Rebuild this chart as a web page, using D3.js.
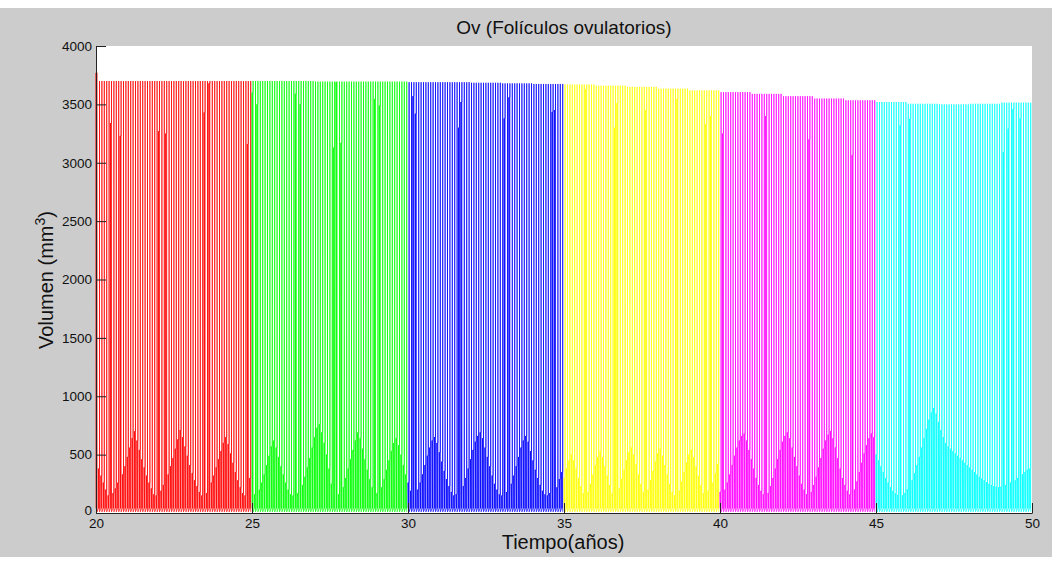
<!DOCTYPE html>
<html>
<head>
<meta charset="utf-8">
<script src="https://cdn.jsdelivr.net/npm/d3@7"></script>
<style>
  html, body { margin: 0; padding: 0; background: #fff; }
  svg { display: block; }
  text { font-family: 'Liberation Sans', Arial, Helvetica, sans-serif; fill: #111; }
</style>
</head>
<body>
<div id="chart"></div>
<script>
// 5-year stages, one colour each (MATLAB r g b y m c)
const segmentStarts = [20, 25, 30, 35, 40, 45]
const segmentColors = ['#ff0000', '#00ff00', '#0000ff', '#ffff00', '#ff00ff', '#00ffff']
const cyclesPerYear = 13
const cyclesPerSegment = 65

// peak follicle volume (mm3) reached in each year, 20..49
const peakByYear = [
  3700, 3700, 3700, 3700, 3700, 3700, 3700, 3695, 3695, 3695,
  3690, 3690, 3685, 3680, 3675, 3670, 3660, 3650, 3635, 3620,
  3605, 3590, 3570, 3550, 3535, 3520, 3505, 3500, 3505, 3515
]
const initialPeak = 3770

// volume left right after ovulation / at start of the next cycle
const residualEnd = 10
const residualStart = 40

// sample taken just before the peak in every cycle, per stage
const prePeakRed = [
  3770, 380, 320, 260, 200, 150, 3340, 170, 210, 260,
  3230, 330, 400, 480, 560, 640, 700, 620, 540, 460,
  390, 320, 260, 210, 160, 150, 3270, 190, 240, 3250,
  330, 400, 470, 550, 630, 710, 650, 570, 490, 410,
  340, 280, 230, 180, 150, 3430, 170, 3680, 260, 320,
  390, 460, 530, 600, 650, 590, 510, 430, 350, 280,
  220, 170, 150, 3160, 300
]
const prePeakGreen = [
  3600, 160, 3500, 200, 260, 330, 410, 490, 570, 620,
  560, 480, 400, 330, 260, 200, 160, 150, 3590, 170,
  3500, 240, 310, 390, 470, 560, 650, 730, 760, 690,
  600, 500, 380, 250, 3130, 3690, 160, 3170, 220, 300,
  380, 460, 540, 620, 690, 640, 550, 460, 370, 290,
  220, 3545, 170, 3490, 220, 290, 370, 450, 530, 600,
  640, 580, 500, 410, 330
]
const prePeakBlue = [
  260, 190, 3570, 3420, 200, 260, 330, 410, 490, 560,
  620, 650, 600, 520, 440, 360, 290, 230, 180, 150,
  160, 3300, 3520, 230, 300, 380, 460, 540, 610, 660,
  690, 640, 560, 480, 400, 320, 250, 200, 160, 150,
  3380, 180, 3560, 250, 320, 400, 480, 560, 620, 660,
  610, 530, 450, 370, 300, 240, 190, 160, 150, 170,
  3435, 3450, 220, 290, 350
]
const prePeakYellow = [
  300, 380, 450, 500, 450, 380, 300, 230, 170, 3630,
  180, 250, 330, 410, 480, 530, 480, 400, 320, 240,
  170, 3300, 3510, 210, 290, 370, 450, 520, 560, 500,
  420, 330, 250, 180, 3450, 200, 280, 360, 440, 510,
  550, 490, 410, 330, 250, 180, 150, 3545, 190, 270,
  350, 430, 500, 540, 480, 400, 320, 240, 170, 3330,
  190, 3400, 260, 340, 420
]
const prePeakMagenta = [
  180, 3250, 200, 260, 330, 410, 490, 560, 620, 660,
  680, 620, 540, 460, 380, 300, 240, 190, 160, 3400,
  170, 230, 300, 380, 460, 540, 610, 660, 690, 640,
  560, 480, 400, 320, 250, 200, 160, 3200, 180, 240,
  310, 390, 470, 550, 620, 670, 700, 640, 560, 470,
  380, 300, 240, 190, 160, 3065, 200, 270, 350, 430,
  510, 580, 640, 680, 650
]
const prePeakCyan = [
  500, 450, 400, 350, 300, 260, 220, 190, 170, 155,
  3320, 150, 170, 200, 3375, 280, 340, 410, 480, 560,
  640, 720, 800, 860, 900, 850, 780, 710, 650, 600,
  570, 550, 530, 510, 490, 470, 450, 430, 410, 390,
  370, 350, 330, 310, 295, 280, 265, 250, 240, 230,
  225, 220, 225, 3090, 240, 3290, 260, 3460, 280, 300,
  3380, 330, 350, 370, 380
]
const prePeak = [prePeakRed, prePeakGreen, prePeakBlue, prePeakYellow, prePeakMagenta, prePeakCyan]

const xTicks = [20, 25, 30, 35, 40, 45, 50]
const yTicks = [0, 500, 1000, 1500, 2000, 2500, 3000, 3500, 4000]

const width = 1059
const height = 561
const margin = { left: 96, right: 1032, top: 46, bottom: 513 }

const svg = d3.select('#chart')
  .append('svg')
  .attr('width', width)
  .attr('height', height)
  .attr('viewBox', `0 0 ${width} ${height}`)

// figure background
svg.append('rect')
  .attr('x', 0)
  .attr('y', 8)
  .attr('width', 1052)
  .attr('height', 549)
  .attr('fill', '#cccccc')

svg.append('rect')
  .attr('x', margin.left)
  .attr('y', margin.top)
  .attr('width', margin.right - margin.left)
  .attr('height', margin.bottom - margin.top)
  .attr('fill', '#fff')

const x = d3.scaleLinear().domain([20, 50]).range([margin.left, margin.right])
const y = d3.scaleLinear().domain([0, 4000]).range([margin.bottom, margin.top])

const cycleLen = 1 / cyclesPerYear

// one stage -> list of samples (time in years, volume)
// growth phase oscillates between the residual and the pre-peak sample,
// then the follicle jumps to its peak and collapses at ovulation
const buildSeries = s => {
  const pts = []
  for (let i = 0; i < cyclesPerSegment; i++) {
    const t0 = segmentStarts[s] + i * cycleLen
    const year = segmentStarts[s] + Math.floor(i / cyclesPerYear)
    const peak = (s === 0 && i === 0) ? initialPeak : peakByYear[year - 20]
    const pre = Math.min(prePeak[s][i], peak)
    pts.push({ t: t0, v: residualStart })
    pts.push({ t: t0 + 0.02 * cycleLen, v: pre })
    pts.push({ t: t0 + 0.22 * cycleLen, v: residualStart })
    pts.push({ t: t0 + 0.24 * cycleLen, v: pre })
    pts.push({ t: t0 + 0.45 * cycleLen, v: pre })
    pts.push({ t: t0 + 0.46 * cycleLen, v: peak })
    pts.push({ t: t0 + 0.47 * cycleLen, v: residualEnd })
  }
  return pts
}

const line = d3.line()
  .x(d => x(d.t))
  .y(d => y(d.v))

const plot = svg.append('g').attr('class', 'series')

segmentStarts.forEach((start, s) => {
  plot.append('path')
    .datum(buildSeries(s))
    .attr('d', line)
    .attr('fill', 'none')
    .attr('stroke', segmentColors[s])
    .attr('stroke-width', 0.7)
})

// axes, ticks pointing inward, no box
const xAxis = svg.append('g')
  .attr('transform', `translate(0,${margin.bottom})`)
  .call(d3.axisBottom(x).tickValues(xTicks).tickSizeInner(-10).tickSizeOuter(0).tickPadding(5.5).tickFormat(d3.format('d')))

const yAxis = svg.append('g')
  .attr('transform', `translate(${margin.left},0)`)
  .call(d3.axisLeft(y).tickValues(yTicks).tickSizeInner(-10).tickSizeOuter(0).tickPadding(4).tickFormat(d3.format('d')))

;[xAxis, yAxis].forEach(g => {
  g.select('.domain').attr('stroke', '#222')
  g.selectAll('.tick line').attr('stroke', '#222')
  g.selectAll('.tick text')
    .attr('fill', '#222')
    .style('font-size', '13.5px')
    .style('font-family', "'Liberation Sans', Arial, sans-serif")
})

// the 0 label sits a touch higher so it clears the 20 below it
yAxis.selectAll('.tick text').filter(d => d === 0).attr('dy', '0.1em')

svg.append('text')
  .attr('x', 564)
  .attr('y', 34)
  .attr('text-anchor', 'middle')
  .style('font-size', '19px')
  .text('Ov (Folículos ovulatorios)')

svg.append('text')
  .attr('x', 563)
  .attr('y', 549)
  .attr('text-anchor', 'middle')
  .style('font-size', '20px')
  .text('Tiempo(años)')

const yLabel = svg.append('text')
  .attr('transform', 'translate(53,280) rotate(-90)')
  .attr('text-anchor', 'middle')
  .style('font-size', '20px')

yLabel.append('tspan').text('Volumen (mm')
yLabel.append('tspan').attr('dy', -8).style('font-size', '14px').text('3')
yLabel.append('tspan').attr('dy', 8).text(')')
</script>
</body>
</html>
